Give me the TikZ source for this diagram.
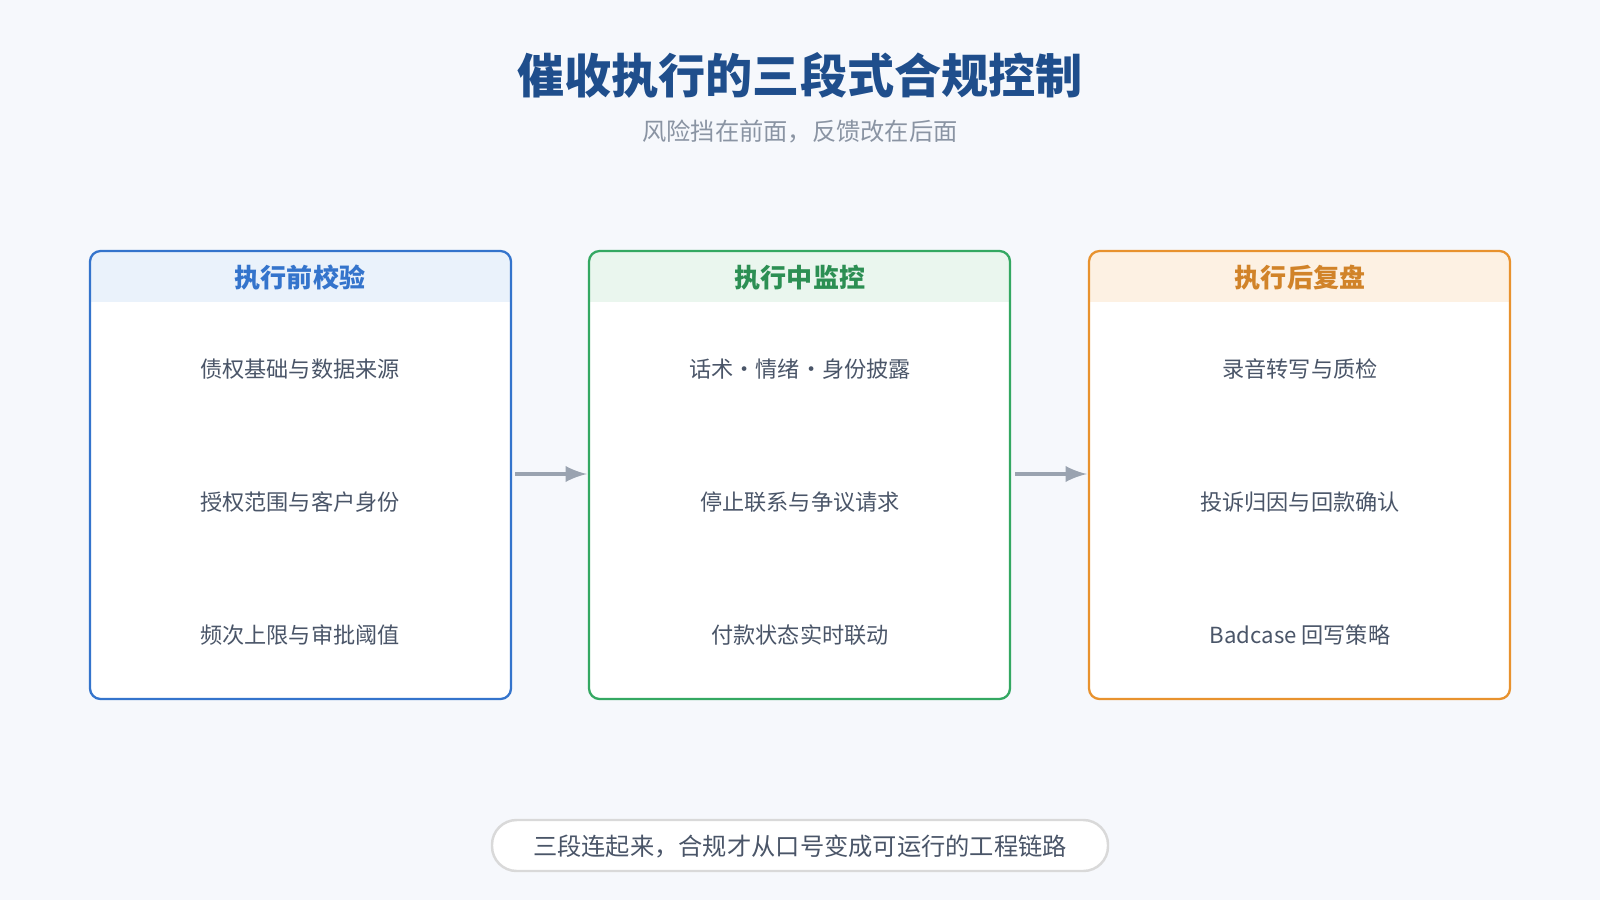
\documentclass[tikz,border=0pt]{standalone}
\usepackage{fontspec}
\setmainfont{Noto Sans CJK SC}
\usetikzlibrary{positioning}
\definecolor{bgc}{HTML}{F6F8FC}
\definecolor{titlec}{HTML}{1F4E8C}
\definecolor{subc}{HTML}{8A94A3}
\definecolor{txtc}{HTML}{4A5568}
\definecolor{bluec}{HTML}{3474CC}
\definecolor{bluef}{HTML}{EAF2FB}
\definecolor{greenc}{HTML}{34A862}
\definecolor{greenf}{HTML}{EAF6EE}
\definecolor{orangec}{HTML}{E8922E}
\definecolor{orangef}{HTML}{FDF1E3}
\definecolor{arrowc}{HTML}{9AA3B0}
\tikzset{
  item/.style={text=txtc,font=\fontsize{6.3}{7}\selectfont},
  head/.style={font=\bfseries\fontsize{7.4}{8}\selectfont},
  flow/.style={->,>=latex,draw=arrowc,line width=1.1pt}
}
\newcommand{\stage}[3]{%
  \begin{scope}
    \clip[rounded corners=3pt] (#1,251) rectangle (#1+421,699);
    \fill[white] (#1,251) rectangle (#1+421,699);
    \fill[#3] (#1,251) rectangle (#1+421,302);
  \end{scope}
  \draw[#2,line width=0.65pt,rounded corners=3pt] (#1,251) rectangle (#1+421,699);
}
\begin{document}
\begin{tikzpicture}[x=0.01cm,y=-0.01cm]
  \fill[bgc] (0,0) rectangle (1600,900);

  \node (title) at (800,75) {\bfseries\fontsize{13.4}{16}\selectfont\color{titlec}催收执行的三段式合规控制};
  \node (sub) at (800,132) {\fontsize{6.9}{8}\selectfont\color{subc}风险挡在前面，反馈改在后面};

  \stage{90}{bluec}{bluef}
  \stage{589}{greenc}{greenf}
  \stage{1089}{orangec}{orangef}

  % arrow ends on the box edges
  \coordinate (preE) at (515,474);
  \coordinate (midW) at (587,474);
  \coordinate (midE) at (1015,474);
  \coordinate (postW) at (1087,474);

  \node[head,text=bluec] (h1) at (300,278) {执行前校验};
  \node[head,text=greenc!85!black] (h2) at (800,278) {执行中监控};
  \node[head,text=orangec!90!black] (h3) at (1300,278) {执行后复盘};

  \node[item] (a1) at (300,369) {债权基础与数据来源};
  \node[item] (a2) at (300,502) {授权范围与客户身份};
  \node[item] (a3) at (300,635) {频次上限与审批阈值};
  \node[item] (b1) at (800,369) {话术・情绪・身份披露};
  \node[item] (b2) at (800,502) {停止联系与争议请求};
  \node[item] (b3) at (800,635) {付款状态实时联动};
  \node[item] (c1) at (1300,369) {录音转写与质检};
  \node[item] (c2) at (1300,502) {投诉归因与回款确认};
  \node[item] (c3) at (1300,635) {Badcase 回写策略};

  \draw[flow] (preE) -- (midW);
  \draw[flow] (midE) -- (postW);

  \draw[fill=white,draw=black!15,line width=0.7pt,rounded corners=7pt] (492,820) rectangle (1108,871);
  \node[text=txtc,font=\fontsize{6.9}{8}\selectfont] (foot) at (800,846) {三段连起来，合规才从口号变成可运行的工程链路};
\end{tikzpicture}
\end{document}
